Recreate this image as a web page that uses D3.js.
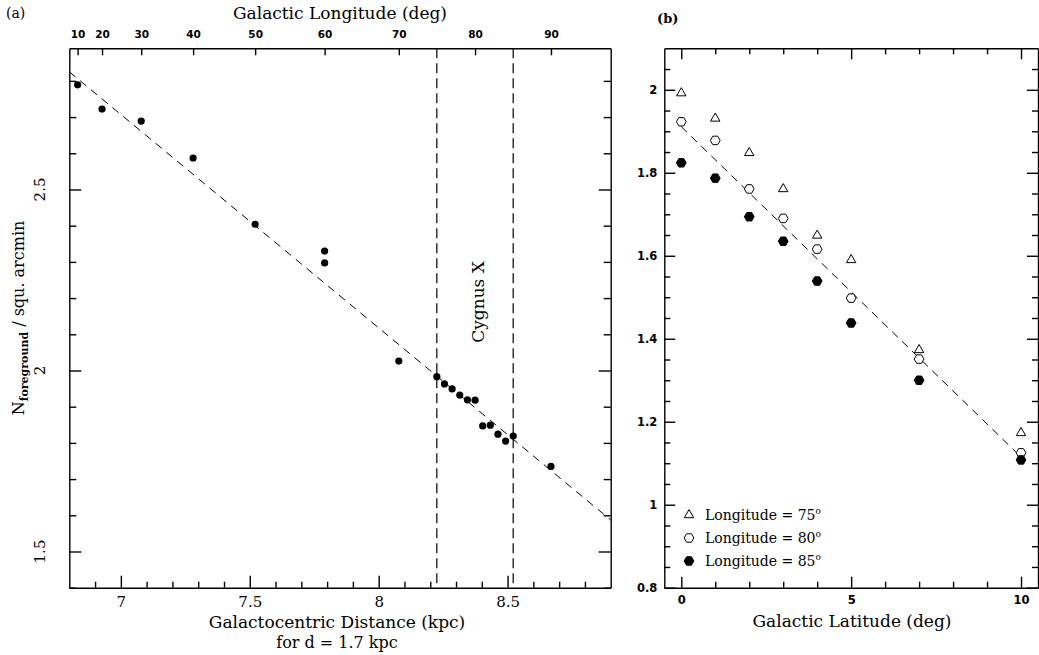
<!DOCTYPE html>
<html>
<head>
<meta charset="utf-8">
<script src="https://cdn.jsdelivr.net/npm/d3@7"></script>
<style>
  body { margin: 0; background: #fff; }
  svg { display: block; }
</style>
</head>
<body>
<svg id="chart" width="1039" height="655"></svg>
<script>
// ---- data: panel (a), foreground counts vs galactic longitude ----
const lonA = [10, 20, 30, 40, 50, 60, 60, 70, 75, 76, 77, 78, 79, 80, 81, 82, 83, 84, 85, 90];
const countsA = [2.789, 2.722, 2.689, 2.587, 2.404, 2.330, 2.297, 2.026, 1.983, 1.963, 1.949, 1.932,
                 1.919, 1.918, 1.847, 1.849, 1.824, 1.805, 1.819, 1.735];
const fitA = [[6.8, 2.825], [8.9, 1.587]];
const cygnusLon = [75, 85];
const lonTicks = [10, 20, 30, 40, 50, 60, 70, 80, 90];
const distTicks = [7, 7.5, 8, 8.5];
const countTicksA = [1.5, 2, 2.5];

// ---- data: panel (b), counts vs galactic latitude ----
const latB = [0, 1, 2, 3, 4, 5, 7, 10];
const counts75 = [1.992, 1.931, 1.848, 1.761, 1.649, 1.590, 1.373, 1.173];
const counts80 = [1.923, 1.878, 1.761, 1.690, 1.616, 1.498, 1.351, 1.125];
const counts85 = [1.824, 1.787, 1.694, 1.635, 1.539, 1.438, 1.300, 1.108];
const fitB = [[0, 1.911], [10, 1.115]];
const latTicks = [0, 5, 10];
const countTicksB = [0.8, 1, 1.2, 1.4, 1.6, 1.8, 2];
const legendLabels = ["75", "80", "85"];

const svg = d3.select("#chart");
const serif = "'DejaVu Serif', serif";
const sans = "'DejaVu Sans', sans-serif";

// galactocentric distance for a source at d = 1.7 kpc (R0 = 8.5 kpc)
function galR(l) {
    const r = l * Math.PI / 180;
    return Math.sqrt(8.5 * 8.5 + 1.7 * 1.7 - 2 * 8.5 * 1.7 * Math.cos(r));
}

// draws an axis, black strokes, no default font
function axis(g, ax, tx, ty, noDomain) {
    const a = g.append("g")
        .attr("transform", `translate(${tx},${ty})`)
        .call(ax)
        .attr("font-family", null)
        .attr("font-size", null);
    a.selectAll("path, line").attr("stroke", "#000").attr("stroke-width", 1.4);
    if (noDomain) a.select(".domain").remove();
    return a;
}

// ================= panel (a) =================
const xA = d3.scaleLinear().domain([6.8, 8.9]).range([69.3, 610.7]);
const yA = d3.scaleLinear().domain([1.4, 2.89]).range([587.7, 48.3]);
const gA = svg.append("g");

const minorX = d3.range(69, 89).map(v => v / 10).filter(v => !distTicks.includes(v));
const minorY = d3.range(14, 29).map(v => v / 10).filter(v => !countTicksA.includes(v));

// bottom
axis(gA, d3.axisBottom(xA).tickValues(distTicks).tickSize(-12).tickSizeOuter(0).tickPadding(9)
    .tickFormat(d3.format("")), 0, yA.range()[0])
    .selectAll("text").attr("font-family", serif).attr("font-size", 15).attr("fill", "#000");
axis(gA, d3.axisBottom(xA).tickValues(minorX).tickSize(-6).tickFormat(""), 0, yA.range()[0], true);
// top: galactic longitude
axis(gA, d3.axisTop(xA).tickValues(lonTicks.map(galR)).tickSize(-7).tickSizeOuter(0).tickPadding(10)
    .tickFormat((d, i) => lonTicks[i]), 0, yA.range()[1])
    .selectAll("text").attr("font-family", sans).attr("font-size", 10.5)
    .attr("font-weight", "bold").attr("fill", "#000");
// left / right
axis(gA, d3.axisLeft(yA).tickValues(countTicksA).tickSize(-12).tickSizeOuter(0).tickFormat(""), xA.range()[0], 0);
axis(gA, d3.axisLeft(yA).tickValues(minorY).tickSize(-7).tickFormat(""), xA.range()[0], 0, true);
axis(gA, d3.axisRight(yA).tickValues(countTicksA).tickSize(-12).tickSizeOuter(0).tickFormat(""), xA.range()[1], 0);
axis(gA, d3.axisRight(yA).tickValues(minorY).tickSize(-7).tickFormat(""), xA.range()[1], 0, true);

// rotated y tick labels
gA.selectAll("text.ylab").data(countTicksA).join("text")
    .attr("class", "ylab")
    .attr("transform", d => `translate(45,${yA(d)}) rotate(-90)`)
    .attr("text-anchor", "middle")
    .attr("font-family", serif).attr("font-size", 15)
    .text(d => d);

// Cygnus X boundaries
gA.selectAll("line.cyg").data(cygnusLon).join("line")
    .attr("class", "cyg")
    .attr("x1", d => xA(galR(d))).attr("x2", d => xA(galR(d)))
    .attr("y1", yA.range()[1]).attr("y2", yA.range()[0])
    .attr("stroke", "#000").attr("stroke-width", 1.2)
    .attr("stroke-dasharray", "10,5");

// fit line
gA.append("path")
    .attr("d", d3.line().x(d => xA(d[0])).y(d => yA(d[1]))(fitA))
    .attr("fill", "none").attr("stroke", "#000").attr("stroke-width", 1)
    .attr("stroke-dasharray", "8,6");

// points
gA.selectAll("circle.pt").data(lonA).join("circle")
    .attr("class", "pt")
    .attr("cx", d => xA(galR(d)))
    .attr("cy", (d, i) => yA(countsA[i]))
    .attr("r", 3.6)
    .attr("fill", "#000");

gA.append("text")
    .attr("transform", `translate(${xA(galR(80)) + 9},302) rotate(-90)`)
    .attr("text-anchor", "middle")
    .attr("font-family", serif).attr("font-size", 17)
    .text("Cygnus X");

// titles
gA.append("text").attr("x", 6).attr("y", 18)
    .attr("font-family", serif).attr("font-size", 14).text("(a)");
gA.append("text").attr("x", 340).attr("y", 19).attr("text-anchor", "middle")
    .attr("font-family", serif).attr("font-size", 17).text("Galactic Longitude (deg)");
gA.append("text").attr("x", 337).attr("y", 628).attr("text-anchor", "middle")
    .attr("font-family", serif).attr("font-size", 17).text("Galactocentric Distance (kpc)");
gA.append("text").attr("x", 337).attr("y", 648).attr("text-anchor", "middle")
    .attr("font-family", serif).attr("font-size", 16).text("for d = 1.7 kpc");

const yTitle = gA.append("text")
    .attr("transform", "translate(24,318) rotate(-90)")
    .attr("text-anchor", "middle")
    .attr("font-family", serif).attr("font-size", 16);
yTitle.append("tspan").text("N");
yTitle.append("tspan").attr("baseline-shift", "-4").attr("font-size", 11).attr("font-weight", "bold").text("foreground");
yTitle.append("tspan").text(" / squ. arcmin");

// ================= panel (b) =================
const xB = d3.scaleLinear().domain([-0.5, 10.5]).range([664.3, 1038]);
const yB = d3.scaleLinear().domain([0.8, 2.1]).range([587.7, 48.3]);
const gB = svg.append("g");

const minorLat = d3.range(0, 11).filter(v => !latTicks.includes(v));
const minorCount = d3.range(16, 42).map(v => v / 20).filter(v => !countTicksB.some(t => Math.abs(t - v) < 1e-9));

axis(gB, d3.axisBottom(xB).tickValues(latTicks).tickSize(-11).tickSizeOuter(0).tickPadding(8)
    .tickFormat(d3.format("")), 0, yB.range()[0])
    .selectAll("text").attr("font-family", sans).attr("font-size", 11.5)
    .attr("font-weight", "bold").attr("fill", "#000");
axis(gB, d3.axisBottom(xB).tickValues(minorLat).tickSize(-6).tickFormat(""), 0, yB.range()[0], true);
axis(gB, d3.axisTop(xB).tickValues(latTicks).tickSize(-11).tickSizeOuter(0).tickFormat(""), 0, yB.range()[1]);
axis(gB, d3.axisTop(xB).tickValues(minorLat).tickSize(-6).tickFormat(""), 0, yB.range()[1], true);
axis(gB, d3.axisLeft(yB).tickValues(countTicksB).tickSize(-11).tickSizeOuter(0).tickPadding(7)
    .tickFormat(d3.format("")), xB.range()[0], 0)
    .selectAll("text").attr("font-family", sans).attr("font-size", 11.5)
    .attr("font-weight", "bold").attr("fill", "#000");
axis(gB, d3.axisLeft(yB).tickValues(minorCount).tickSize(-6).tickFormat(""), xB.range()[0], 0, true);
axis(gB, d3.axisRight(yB).tickValues(countTicksB).tickSize(-11).tickSizeOuter(0).tickFormat(""), xB.range()[1], 0);
axis(gB, d3.axisRight(yB).tickValues(minorCount).tickSize(-6).tickFormat(""), xB.range()[1], 0, true);

gB.append("path")
    .attr("d", d3.line().x(d => xB(d[0])).y(d => yB(d[1]))(fitB))
    .attr("fill", "none").attr("stroke", "#000").attr("stroke-width", 1)
    .attr("stroke-dasharray", "8,6");

// hexagon symbol, flat top
const hexagon = {
    draw(ctx, size) {
        const r = Math.sqrt(size / (3 * Math.sqrt(3) / 2));
        for (let k = 0; k < 6; k++) {
            const a = k * Math.PI / 3;
            if (k === 0) ctx.moveTo(r * Math.cos(a), r * Math.sin(a));
            else ctx.lineTo(r * Math.cos(a), r * Math.sin(a));
        }
        ctx.closePath();
    }
};

const seriesB = [
    { values: counts75, sym: d3.symbolTriangle, size: 38, fill: "none" },
    { values: counts80, sym: hexagon, size: 62, fill: "#fff" },
    { values: counts85, sym: hexagon, size: 62, fill: "#000" }
];

seriesB.forEach(s => {
    gB.append("g").selectAll("path").data(latB).join("path")
        .attr("transform", (d, i) => `translate(${xB(d)},${yB(s.values[i])})`)
        .attr("d", d3.symbol().type(s.sym).size(s.size))
        .attr("fill", s.fill).attr("stroke", "#000").attr("stroke-width", 1);
});

// legend
const leg = gB.append("g").attr("transform", "translate(689,515)");
seriesB.forEach((s, i) => {
    const row = leg.append("g").attr("transform", `translate(0,${i * 23})`);
    row.append("path").attr("d", d3.symbol().type(s.sym).size(s.size))
        .attr("fill", s.fill).attr("stroke", "#000").attr("stroke-width", 1);
    const t = row.append("text").attr("x", 16).attr("y", 5)
        .attr("font-family", serif).attr("font-size", 14)
        .text("Longitude = " + legendLabels[i]);
    t.append("tspan").attr("baseline-shift", "6").attr("font-size", 9).text("o");
});

gB.append("text").attr("x", 657).attr("y", 23)
    .attr("font-family", serif).attr("font-size", 13).attr("font-weight", "bold").text("(b)");
gB.append("text").attr("x", 852).attr("y", 627).attr("text-anchor", "middle")
    .attr("font-family", serif).attr("font-size", 17).text("Galactic Latitude (deg)");
</script>
</body>
</html>
